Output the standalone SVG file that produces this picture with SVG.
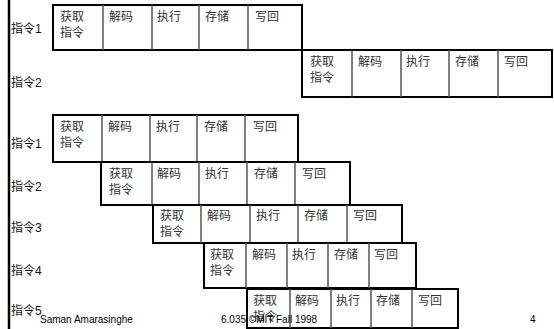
<svg xmlns="http://www.w3.org/2000/svg" width="554" height="329" viewBox="0 0 554 329">
<style>
.box{fill:none;stroke:#000;stroke-width:2}
.div{stroke:#555;stroke-width:1.5}
.c{font-family:"Noto Sans CJK SC","Liberation Serif",serif;font-size:12px;fill:#333}
.lab{font-family:"Liberation Sans","Noto Sans CJK SC",sans-serif;font-size:12px;fill:#111}
.ft{font-family:"Liberation Sans",Arial,sans-serif;font-size:10px;fill:#000}
</style>
<rect width="554" height="329" fill="#fff"/>
<line x1="9" y1="0" x2="9" y2="329" stroke="#000" stroke-width="2.5"/>

<g id="top-row1">
<text class="lab" x="11" y="33">指令1</text>
<rect class="box" x="53" y="5" width="249" height="45"/>
<line class="div" x1="103" y1="5" x2="103" y2="50"/><line class="div" x1="152" y1="5" x2="152" y2="50"/><line class="div" x1="199" y1="5" x2="199" y2="50"/><line class="div" x1="248" y1="5" x2="248" y2="50"/>
<text class="c" x="60" y="21">获取</text><text class="c" x="60" y="37">指令</text>
<text class="c" x="109" y="21">解码</text><text class="c" x="157" y="21">执行</text><text class="c" x="205" y="21">存储</text><text class="c" x="255" y="21">写回</text>
</g>
<g id="top-row2">
<text class="lab" x="11" y="87">指令2</text>
<rect class="box" x="302" y="50" width="250" height="47"/>
<line class="div" x1="352" y1="50" x2="352" y2="97"/><line class="div" x1="401" y1="50" x2="401" y2="97"/><line class="div" x1="449" y1="50" x2="449" y2="97"/><line class="div" x1="498" y1="50" x2="498" y2="97"/>
<text class="c" x="310" y="66">获取</text><text class="c" x="310" y="82">指令</text>
<text class="c" x="358" y="66">解码</text><text class="c" x="406" y="66">执行</text><text class="c" x="455" y="66">存储</text><text class="c" x="504" y="66">写回</text>
</g>

<g id="p-row1">
<text class="lab" x="11" y="148">指令1</text>
<rect class="box" x="53" y="115" width="245" height="47"/>
<line class="div" x1="102" y1="115" x2="102" y2="162"/><line class="div" x1="150" y1="115" x2="150" y2="162"/><line class="div" x1="197" y1="115" x2="197" y2="162"/><line class="div" x1="245" y1="115" x2="245" y2="162"/>
<text class="c" x="60" y="131">获取</text><text class="c" x="60" y="147">指令</text>
<text class="c" x="108" y="131">解码</text><text class="c" x="156" y="131">执行</text><text class="c" x="204" y="131">存储</text><text class="c" x="253" y="131">写回</text>
</g>
<g id="p-row2">
<text class="lab" x="11" y="191">指令2</text>
<rect class="box" x="101" y="162" width="249" height="43"/>
<line class="div" x1="152" y1="162" x2="152" y2="205"/><line class="div" x1="199" y1="162" x2="199" y2="205"/><line class="div" x1="247" y1="162" x2="247" y2="205"/><line class="div" x1="295" y1="162" x2="295" y2="205"/>
<text class="c" x="109" y="178">获取</text><text class="c" x="109" y="194">指令</text>
<text class="c" x="157" y="178">解码</text><text class="c" x="205" y="178">执行</text><text class="c" x="254" y="178">存储</text><text class="c" x="302" y="178">写回</text>
</g>
<g id="p-row3">
<text class="lab" x="11" y="232">指令3</text>
<rect class="box" x="153" y="205" width="249" height="38"/>
<line class="div" x1="201" y1="205" x2="201" y2="243"/><line class="div" x1="250" y1="205" x2="250" y2="243"/><line class="div" x1="298" y1="205" x2="298" y2="243"/><line class="div" x1="347" y1="205" x2="347" y2="243"/>
<text class="c" x="160" y="220">获取</text><text class="c" x="160" y="236">指令</text>
<text class="c" x="207" y="220">解码</text><text class="c" x="256" y="220">执行</text><text class="c" x="304" y="220">存储</text><text class="c" x="353" y="220">写回</text>
</g>
<g id="p-row4">
<text class="lab" x="11" y="275">指令4</text>
<rect class="box" x="204" y="243" width="212" height="45"/>
<line class="div" x1="246" y1="243" x2="246" y2="288"/><line class="div" x1="287" y1="243" x2="287" y2="288"/><line class="div" x1="328" y1="243" x2="328" y2="288"/><line class="div" x1="369" y1="243" x2="369" y2="288"/>
<text class="c" x="210" y="259">获取</text><text class="c" x="210" y="275">指令</text>
<text class="c" x="252" y="259">解码</text><text class="c" x="292" y="259">执行</text><text class="c" x="334" y="259">存储</text><text class="c" x="374" y="259">写回</text>
</g>
<g id="p-row5">
<text class="lab" x="11" y="315">指令5</text>
<rect class="box" x="247" y="289" width="211" height="39"/>
<line class="div" x1="290" y1="289" x2="290" y2="328"/><line class="div" x1="331" y1="289" x2="331" y2="328"/><line class="div" x1="371" y1="289" x2="371" y2="328"/><line class="div" x1="412" y1="289" x2="412" y2="328"/>
<text class="c" x="253" y="305">获取</text><text class="c" x="253" y="321">指令</text>
<text class="c" x="295" y="305">解码</text><text class="c" x="336" y="305">执行</text><text class="c" x="376" y="305">存储</text><text class="c" x="418" y="305">写回</text>
</g>

<g id="footer">
<text class="ft" x="40" y="323">Saman Amarasinghe</text>
<text class="ft" x="221" y="323">6.035 ©MIT Fall 1998</text>
<text class="ft" x="530" y="323">4</text>
</g>
</svg>
